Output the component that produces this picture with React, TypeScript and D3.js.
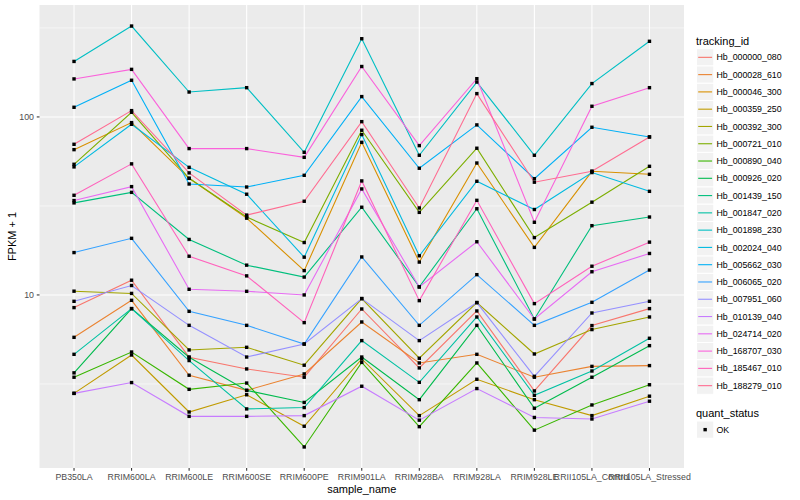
import React from 'react';
import * as d3 from 'd3';

const samples = [
  'PB350LA', 'RRIM600LA', 'RRIM600LE', 'RRIM600SE', 'RRIM600PE', 'RRIM901LA',
  'RRIM928BA', 'RRIM928LA', 'RRIM928LE', 'RRII105LA_Control', 'RRII105LA_Stressed',
];

const trackingIds = [
  'Hb_000000_080', 'Hb_000028_610', 'Hb_000046_300', 'Hb_000359_250', 'Hb_000392_300',
  'Hb_000721_010', 'Hb_000890_040', 'Hb_000926_020', 'Hb_001439_150', 'Hb_001847_020',
  'Hb_001898_230', 'Hb_002024_040', 'Hb_005662_030', 'Hb_006065_020', 'Hb_007951_060',
  'Hb_010139_040', 'Hb_024714_020', 'Hb_168707_030', 'Hb_185467_010', 'Hb_188279_010',
];

const colors = [
  '#F8766D', '#EA8331', '#D89000', '#C09B00', '#A3A500',
  '#7CAE00', '#39B600', '#00BB4E', '#00BF7D', '#00C1A3',
  '#00BFC4', '#00BAE0', '#00B0F6', '#35A2FF', '#9590FF',
  '#C77CFF', '#E76BF3', '#FA62DB', '#FF62BC', '#FF6C91',
];

// FPKM + 1 values per sample (order of `samples`)
const hb_000000_080 = [8.49, 12.1, 4.47, 3.84, 3.45, 8.34, 3.89, 8.13, 2.89, 6.73, 8.38];
const hb_000028_610 = [5.78, 9.33, 3.54, 2.91, 3.6, 7.05, 4.15, 4.64, 3.45, 3.97, 4.01];
const hb_000046_300 = [65.5, 92.9, 45.2, 27.0, 13.7, 72.0, 15.3, 55.1, 18.5, 49.5, 47.6];
const hb_000359_250 = [2.8, 4.6, 2.2, 2.75, 1.83, 4.37, 2.1, 3.36, 2.58, 2.1, 2.7];
const hb_000392_300 = [10.5, 10.2, 4.91, 5.08, 4.03, 9.54, 4.41, 9.06, 4.66, 6.39, 7.52];
const hb_000721_010 = [54.2, 106.2, 45.2, 27.4, 19.7, 84.2, 29.1, 66.7, 21.0, 33.2, 52.8];
const hb_000890_040 = [3.45, 4.78, 2.95, 3.2, 1.4, 4.18, 1.82, 4.15, 1.74, 2.41, 3.13];
const hb_000926_020 = [3.65, 8.38, 4.47, 2.91, 2.49, 4.48, 2.58, 6.75, 2.31, 3.45, 5.19];
const hb_001439_150 = [32.9, 37.7, 20.5, 14.7, 12.6, 31.1, 11.1, 30.5, 7.33, 24.5, 27.4];
const hb_001847_020 = [4.64, 8.38, 4.28, 2.29, 2.33, 5.54, 3.23, 7.52, 2.73, 3.74, 5.71];
const hb_001898_230 = [205, 324, 138, 146, 63.3, 275, 60.9, 157, 60.9, 154, 266];
const hb_002024_040 = [52.4, 90.9, 52.1, 36.8, 16.3, 79.6, 16.6, 43.5, 30.2, 48.7, 38.2];
const hb_005662_030 = [113.3, 160.7, 42.0, 40.4, 47.0, 130.1, 51.5, 90.2, 45.0, 87.5, 77.2];
const hb_006065_020 = [17.3, 20.8, 8.09, 6.75, 5.3, 16.35, 6.75, 13.0, 6.75, 9.09, 13.8];
const hb_007951_060 = [9.21, 11.3, 6.75, 4.48, 5.3, 9.54, 5.54, 9.06, 3.49, 7.92, 9.21];
const hb_010139_040 = [2.8, 3.22, 2.08, 2.08, 2.1, 3.07, 1.98, 2.98, 2.05, 2.01, 2.53];
const hb_024714_020 = [33.9, 40.6, 10.76, 10.48, 10.0, 39.4, 11.09, 19.9, 7.33, 13.5, 17.1];
const hb_168707_030 = [163.5, 185, 66.4, 66.4, 59.3, 192, 69.0, 164, 25.6, 114.8, 146];
const hb_185467_010 = [36.3, 54.5, 16.5, 12.8, 6.99, 43.7, 9.29, 34.0, 8.94, 14.5, 19.8];
const hb_188279_010 = [70.2, 108.5, 48.5, 28.1, 33.6, 94.1, 30.8, 135.2, 43.0, 49.5, 77.2];

const seriesValues = [
  hb_000000_080, hb_000028_610, hb_000046_300, hb_000359_250, hb_000392_300,
  hb_000721_010, hb_000890_040, hb_000926_020, hb_001439_150, hb_001847_020,
  hb_001898_230, hb_002024_040, hb_005662_030, hb_006065_020, hb_007951_060,
  hb_010139_040, hb_024714_020, hb_168707_030, hb_185467_010, hb_188279_010,
];

const yTicks = [10, 100];
const yMinor = [Math.sqrt(10), Math.sqrt(10) * 10, Math.sqrt(10) * 100];
const quantStatus = ['OK'];

const W = 800;
const H = 500;
const panel = { left: 39.5, right: 684, top: 5, bottom: 468 };
const FONT = "'Liberation Sans', Arial, Helvetica, sans-serif";

export default function App() {
  const all = seriesValues.flat();
  const [mn, mx] = d3.extent(all) as [number, number];
  const lmn = Math.log10(mn);
  const lmx = Math.log10(mx);
  const pad = (lmx - lmn) * 0.05;
  const y = d3
    .scaleLog()
    .domain([Math.pow(10, lmn - pad), Math.pow(10, lmx + pad)])
    .range([panel.bottom, panel.top]);
  const x = d3
    .scalePoint<string>()
    .domain(samples)
    .range([panel.left, panel.right])
    .padding(0.6);

  const line = d3
    .line<number>()
    .x((_, i) => x(samples[i]) as number)
    .y((d) => y(d));

  const keyTop = 48.7;
  const keyH = 17.28;
  const keyX = 696.5;
  const keyW = 17.28;
  const textX = 716.5;

  const qsTitleY = 416.5;
  const qsKeyTop = 421;

  return (
    <svg width={W} height={H} style={{ position: 'absolute', left: 0, top: 0 }} fontFamily={FONT}>
      <rect x={0} y={0} width={W} height={H} fill="#ffffff" />
      <rect
        x={panel.left}
        y={panel.top}
        width={panel.right - panel.left}
        height={panel.bottom - panel.top}
        fill="#EBEBEB"
      />
      {yMinor.map((v, i) => (
        <line key={'ym' + i} x1={panel.left} x2={panel.right} y1={y(v)} y2={y(v)} stroke="#fff" strokeWidth={0.55} />
      ))}
      {yTicks.map((v) => (
        <line key={'yg' + v} x1={panel.left} x2={panel.right} y1={y(v)} y2={y(v)} stroke="#fff" strokeWidth={1.07} />
      ))}
      {samples.map((s) => (
        <line key={'xg' + s} x1={x(s)} x2={x(s)} y1={panel.top} y2={panel.bottom} stroke="#fff" strokeWidth={1.07} />
      ))}

      {seriesValues.map((vals, i) => (
        <path key={'l' + i} d={line(vals) as string} fill="none" stroke={colors[i]} strokeWidth={1.1} />
      ))}
      {seriesValues.map((vals, i) =>
        vals.map((v, j) => (
          <rect
            key={'p' + i + '_' + j}
            x={(x(samples[j]) as number) - 1.7}
            y={y(v) - 1.7}
            width={3.4}
            height={3.4}
            fill="#000"
          />
        ))
      )}

      {/* axes */}
      {yTicks.map((v) => (
        <g key={'yt' + v}>
          <line x1={panel.left - 2.75} x2={panel.left} y1={y(v)} y2={y(v)} stroke="#333" strokeWidth={1.07} />
          <text x={panel.left - 5.5} y={y(v) + 3.2} textAnchor="end" fontSize={8.8} fill="#4D4D4D">
            {v}
          </text>
        </g>
      ))}
      {samples.map((s) => (
        <g key={'xt' + s}>
          <line x1={x(s)} x2={x(s)} y1={panel.bottom} y2={panel.bottom + 2.75} stroke="#333" strokeWidth={1.07} />
          <text x={x(s)} y={480} textAnchor="middle" fontSize={8.8} fill="#4D4D4D">
            {s}
          </text>
        </g>
      ))}
      <text x={(panel.left + panel.right) / 2} y={492.5} textAnchor="middle" fontSize={11} fill="#000">
        sample_name
      </text>
      <text
        transform={`translate(16, ${(panel.top + panel.bottom) / 2}) rotate(-90)`}
        textAnchor="middle"
        fontSize={11}
        fill="#000"
      >
        FPKM + 1
      </text>

      {/* legend: tracking_id */}
      <text x={696} y={44.5} fontSize={11} fill="#000">
        tracking_id
      </text>
      {trackingIds.map((id, i) => {
        const top = keyTop + i * keyH;
        const cy = top + keyH / 2;
        return (
          <g key={'lg' + id}>
            <rect x={keyX} y={top} width={keyW} height={keyH} fill="#F2F2F2" stroke="#fff" strokeWidth={1} />
            <line x1={keyX + 1.7} x2={keyX + keyW - 1.7} y1={cy} y2={cy} stroke={colors[i]} strokeWidth={1.1} />
            <text x={textX} y={cy + 3.1} fontSize={8.8} fill="#000">
              {id}
            </text>
          </g>
        );
      })}

      {/* legend: quant_status */}
      <text x={696} y={qsTitleY} fontSize={11} fill="#000">
        quant_status
      </text>
      {quantStatus.map((q, i) => {
        const top = qsKeyTop + i * keyH;
        const cy = top + keyH / 2;
        return (
          <g key={'qs' + q}>
            <rect x={keyX} y={top} width={keyW} height={keyH} fill="#F2F2F2" stroke="#fff" strokeWidth={1} />
            <rect x={keyX + keyW / 2 - 1.7} y={cy - 1.7} width={3.4} height={3.4} fill="#000" />
            <text x={textX} y={cy + 3.1} fontSize={8.8} fill="#000">
              {q}
            </text>
          </g>
        );
      })}
    </svg>
  );
}
